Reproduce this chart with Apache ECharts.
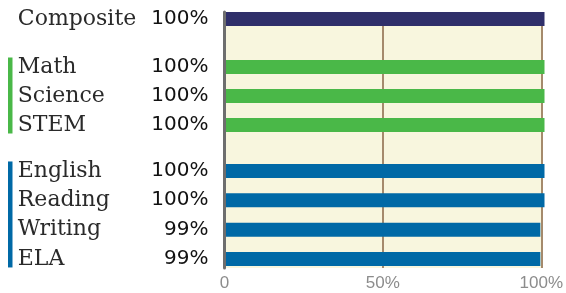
<!DOCTYPE html>
<html>
<head>
<meta charset="utf-8">
<script src="https://cdn.jsdelivr.net/npm/echarts@6/dist/echarts.min.js"></script>
<style>
html,body{margin:0;padding:0;background:#fff;}
#chart{width:566px;height:293px;}
</style>
</head>
<body>
<div id="chart"></div>
<script>
// ---- data ----
const compositeCategories = ['Composite'];
const compositeValues = [100];
const stemCategories = ['Math', 'Science', 'STEM'];
const stemValues = [100, 100, 100];
const elaCategories = ['English', 'Reading', 'Writing', 'ELA'];
const elaValues = [100, 100, 98.7, 98.7];
const xTickValues = [0, 50, 100];
const xTickLabels = ['0', '50%', '100%'];

// ---- layout / style ----
const PLOT_LEFT = 224.5, PLOT_WIDTH = 320;
const BAR_W = 14;
const groups = [
  { cats: compositeCategories, vals: compositeValues, color: '#2f2f6a', top: 12, slot: 14, marker: null },
  { cats: stemCategories, vals: stemValues, color: '#4ab848', top: 52.5, slot: 29, marker: '#4ab848' },
  { cats: elaCategories, vals: elaValues, color: '#0069a6', top: 156.3, slot: 29.33, marker: '#0069a6' }
];

const grids = [{ left: PLOT_LEFT, top: 12, width: PLOT_WIDTH, height: 256, show: true, backgroundColor: '#f8f6de', borderWidth: 0 }];
const xAxes = [{
  gridIndex: 0, type: 'value', min: 0, max: 100, interval: 50,
  axisLine: { show: false }, axisTick: { show: false },
  splitLine: { show: true, lineStyle: { color: '#a58a6c', width: 2 } },
  axisLabel: { color: '#8c8c8c', fontSize: 17, fontFamily: 'Liberation Sans, Arial, sans-serif', margin: 7,
    formatter: v => xTickLabels[xTickValues.indexOf(v)] }
}];
const yAxes = [{
  gridIndex: 0, type: 'category', data: [''], z: 5,
  axisLine: { show: true, lineStyle: { color: '#6e6e6e', width: 3 } },
  axisTick: { show: false }, axisLabel: { show: false }, splitLine: { show: false }
}];
const series = [];
const graphics = [];

groups.forEach((g, i) => {
  const gi = i + 1;
  const h = g.slot * g.cats.length;
  grids.push({ left: PLOT_LEFT, top: g.top, width: PLOT_WIDTH, height: h, show: false });
  xAxes.push({ gridIndex: gi, type: 'value', min: 0, max: 100, show: false });
  yAxes.push({
    gridIndex: gi, type: 'category', inverse: true, data: g.cats,
    axisLine: { show: false }, axisTick: { show: false }, splitLine: { show: false },
    axisLabel: {
      margin: 16,
      formatter: (val, idx) => '{n|' + val + '}{v|' + Math.round(g.vals[idx]) + '%}',
      rich: {
        n: { width: 120, align: 'left', fontFamily: 'DejaVu Serif, serif', fontSize: 22, color: '#2a2a2a' },
        v: { width: 70.7, align: 'right', fontFamily: 'DejaVu Sans, sans-serif', fontSize: 20, color: '#111' }
      }
    }
  });
  series.push({
    type: 'bar', xAxisIndex: gi, yAxisIndex: gi, data: g.vals, barWidth: BAR_W,
    itemStyle: { color: g.color }, silent: true, animation: false
  });
  if (g.marker) {
    const firstTop = g.top + g.slot / 2 - BAR_W / 2;
    const lastBottom = g.top + h - g.slot / 2 + BAR_W / 2;
    graphics.push({
      type: 'rect', left: 8, top: firstTop - 2.5,
      shape: { width: 4.5, height: lastBottom - firstTop + 4 },
      style: { fill: g.marker }
    });
  }
});

const chart = echarts.init(document.getElementById('chart'), null, { renderer: 'canvas' });
chart.setOption({
  animation: false,
  grid: grids, xAxis: xAxes, yAxis: yAxes, series: series, graphic: graphics
});
</script>
</body>
</html>
